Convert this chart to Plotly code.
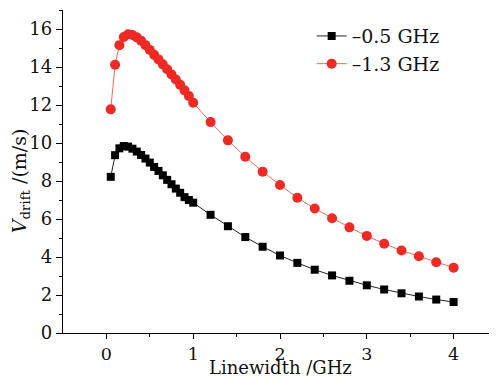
import plotly.graph_objects as go

x_vals = [0.05, 0.10, 0.15, 0.20, 0.25, 0.30, 0.35, 0.40, 0.45, 0.50,
          0.55, 0.60, 0.65, 0.70, 0.75, 0.80, 0.85, 0.90, 0.95, 1.00,
          1.2, 1.4, 1.6, 1.8, 2.0, 2.2, 2.4, 2.6, 2.8, 3.0,
          3.2, 3.4, 3.6, 3.8, 4.0]

v_05 = [8.22, 9.36, 9.72, 9.84, 9.81, 9.70, 9.55, 9.37, 9.18, 8.97,
        8.74, 8.53, 8.30, 8.06, 7.83, 7.60, 7.38, 7.15, 7.0, 6.86,
        6.22, 5.62, 5.05, 4.54, 4.08, 3.69, 3.33, 3.03, 2.75, 2.51,
        2.29, 2.09, 1.92, 1.76, 1.63]

v_13 = [11.77, 14.12, 15.15, 15.58, 15.72, 15.68, 15.56, 15.38, 15.15, 14.90,
        14.64, 14.40, 14.14, 13.88, 13.61, 13.34, 13.06, 12.77, 12.47, 12.12,
        11.10, 10.14, 9.28, 8.49, 7.79, 7.12, 6.55, 6.04, 5.56, 5.11,
        4.70, 4.34, 4.04, 3.72, 3.44]

names = ["\u20130.5 GHz", "\u20131.3 GHz"]
x_title = "Linewidth /GHz"
y_title = "<i>V</i><sub>drift</sub> /(m/s)"

FONT = "DejaVu Serif"

fig = go.Figure()
fig.add_trace(go.Scatter(
    x=x_vals, y=v_05, name=names[0], mode="lines+markers",
    line=dict(color="#222222", width=1),
    marker=dict(symbol="square", size=8, color="#000000"),
))
fig.add_trace(go.Scatter(
    x=x_vals, y=v_13, name=names[1], mode="lines+markers",
    line=dict(color="#f26a5a", width=1),
    marker=dict(symbol="circle", size=10, color="#ee2a24"),
))

axis_common = dict(
    showline=True, linecolor="#000000", linewidth=1.3,
    tickwidth=1.2, tickcolor="#000000", ticks="outside",
    showgrid=False, zeroline=False, mirror=False, automargin=False,
)

# the page body has an 8px margin, so the figure is sized to fit the window
fig.update_layout(
    width=489, height=371,
    paper_bgcolor="white", plot_bgcolor="white",
    margin=dict(l=55, r=0, t=2, b=46),
    font=dict(family=FONT, color="#111111"),
    xaxis=dict(
        range=[-0.5, 4.5], tickvals=[0, 1, 2, 3, 4], ticklen=5,
        tickfont=dict(family=FONT, size=17.5, color="#111111"),
        minor=dict(tickvals=[0.5, 1.5, 2.5, 3.5], ticks="outside", ticklen=3,
                   tickwidth=1, tickcolor="#000000"),
        **axis_common,
    ),
    yaxis=dict(
        range=[0, 17], tickvals=[0, 2, 4, 6, 8, 10, 12, 14, 16], ticklen=6,
        tickfont=dict(family=FONT, size=18, color="#111111"),
        minor=dict(dtick=1, ticks="outside", ticklen=3, tickwidth=1,
                   tickcolor="#000000"),
        **axis_common,
    ),
    legend=dict(
        x=0.573, y=0.978, xanchor="left", yanchor="top",
        bgcolor="rgba(0,0,0,0)", borderwidth=0,
        font=dict(family=FONT, size=19, color="#111111"),
        itemwidth=30, tracegroupgap=0,
    ),
    showlegend=True,
    annotations=[
        dict(
            text=y_title, textangle=-90, showarrow=False,
            xref="paper", yref="paper", x=0, y=0.47,
            xanchor="center", yanchor="middle", xshift=-43,
            font=dict(family=FONT, size=19, color="#111111"),
        ),
        dict(
            text=x_title, showarrow=False,
            xref="paper", yref="paper", x=0.5, y=0,
            xanchor="center", yanchor="bottom", yshift=-46, borderpad=0,
            font=dict(family=FONT, size=18, color="#111111"),
        ),
    ],
)

fig.write_html("out.html")
